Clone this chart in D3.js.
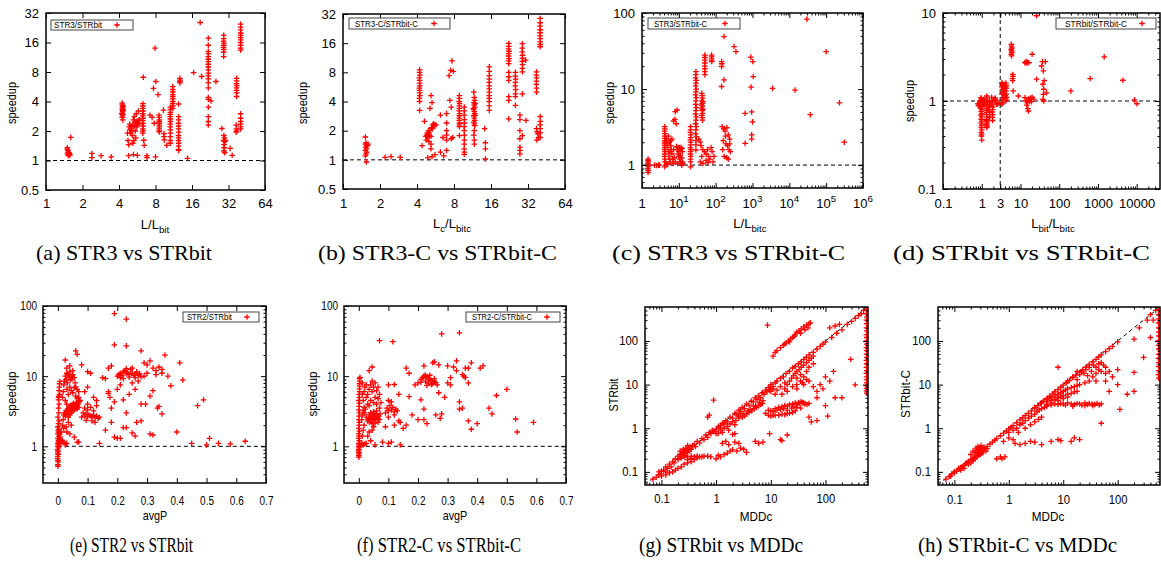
<!DOCTYPE html>
<html>
<head>
<meta charset="utf-8">
<script src="https://cdn.jsdelivr.net/npm/d3@7"></script>
<style>
body { margin: 0; background: #fff; }
text { font-family: "Liberation Sans", Arial, sans-serif; fill: #000; }
.cap { font-family: "Liberation Serif", "Times New Roman", serif; font-size: 22px; }
</style>
</head>
<body>
<svg id="fig" width="1161" height="561"></svg>
<script>
// ---- tick labels ----
var ticksPow2X = [1, 2, 4, 8, 16, 32, 64];
var ticksPow2Y = [0.5, 1, 2, 4, 8, 16, 32];
var ticksCX = [1, 10, 100, 1000, 10000, 100000, 1000000];
var ticksCY = [1, 10, 100];
var ticksDX = [0.1, 1, 3, 10, 100, 1000, 10000];
var ticksDY = [0.1, 1, 10];
var ticksPX = [0, 0.1, 0.2, 0.3, 0.4, 0.5, 0.6, 0.7];
var ticksPY = [1, 10, 100];
var ticksMDD = [0.1, 1, 10, 100];

var captions = ["(a) STR3 vs STRbit", "(b) STR3-C vs STRbit-C", "(c) STR3 vs STRbit-C", "(d) STRbit vs STRbit-C",
                "(e) STR2 vs STRbit", "(f) STR2-C vs STRbit-C", "(g) STRbit vs MDDc", "(h) STRbit-C vs MDDc"];
var legends = ["STR3/STRbit", "STR3-C/STRbit-C", "STR3/STRbit-C", "STRbit/STRbit-C", "STR2/STRbit", "STR2-C/STRbit-C"];

// ---- series (x, y) ----
var ptsA = [
 [1.5,1.35],[1.5,1.3],[1.52,1.26],[1.52,1.22],[1.54,1.2],[1.5,1.17],[1.55,1.15],[1.53,1.12],[1.58,1.14],[1.56,1.18],[1.6,1.72],
 [2.39,1.18],[2.39,1.07],[2.85,1.12],[3.45,1.09],
 [4.25,3.85],[4.25,3.7],[4.28,3.55],[4.3,3.45],[4.25,3.35],[4.3,3.25],[4.28,3.15],[4.25,3.05],[4.3,2.95],[4.28,2.85],[4.25,2.75],[4.3,2.6],[4.32,3.6],[4.32,3.3],[4.22,3.0],
 [4.7,1.9],[4.75,1.6],[4.8,1.45],[4.85,2.2],[4.9,2.35],[5.0,2.1],[5.05,2.25],[5.1,2.0],[5.15,1.8],[5.2,2.3],[5.25,2.6],[5.3,2.2],[5.35,2.8],[5.4,2.45],[5.5,2.3],[5.55,3.0],[5.6,2.5],[5.7,2.4],[5.8,3.2],[5.9,2.6],[5.3,1.6],[5.2,1.5],[5.5,1.7],[5.0,1.9],[4.9,2.05],[5.45,2.0],[5.6,2.2],[5.75,2.55],[5.85,2.35],
 [4.8,1.12],[5.26,1.15],[5.67,1.13],
 [6.3,3.8],[6.3,3.6],[6.28,3.4],[6.32,3.2],[6.3,3.0],[6.28,2.85],[6.32,2.7],[6.3,2.55],[6.28,2.4],[6.32,2.25],[6.3,2.1],[6.3,2.0],[6.28,1.9],[6.35,7.07],[6.4,1.61],[6.45,1.43],
 [6.8,1.12],[6.8,1.07],[7.7,5.45],[8.05,6.4],[8.4,4.7],[7.8,2.4],[7.93,14],[8.0,1.09],[7.2,2.9],[7.5,2.75],
 [8.55,2.9],[8.6,2.75],[8.62,2.6],[8.58,2.5],[8.6,2.4],[8.6,2.3],[8.62,2.2],[8.58,2.1],[8.6,2.0],[8.6,1.96],
 [9.3,3.27],[9.4,1.88],[9.4,1.75],[9.45,1.62],[9.9,1.43],
 [10.6,3.5],[10.6,3.3],[10.62,3.1],[10.58,2.95],[10.6,2.8],[10.6,2.65],[10.62,2.5],[10.58,2.35],[10.6,2.2],[10.6,2.05],[10.62,1.9],[10.6,1.75],[10.6,1.6],[10.6,1.5],
 [11.1,5.67],[11.1,5.3],[11.12,5.0],[11.08,4.7],[11.1,4.5],[11.1,4.25],[11.12,4.0],[11.08,3.8],[11.1,3.6],[11.1,3.4],
 [12.4,3.77],[12.4,2.8],[12.42,2.6],[12.38,2.4],[12.4,2.25],[12.4,2.1],[12.42,1.95],[12.38,1.8],[12.4,1.7],[12.4,1.6],[12.42,1.5],[12.4,1.4],[12.4,1.3],[12.4,1.27],
 [12.7,6.9],[12.75,6.6],[12.7,6.4],[12.72,6.2],
 [14.7,1.05],[16.5,7.9],[18.7,25.6],[19.2,7.2],
 [21.8,17.7],[21.8,15],[21.8,13],[21.85,12.3],[21.75,11.5],[21.8,10.8],[21.85,10.2],[21.75,9.6],[21.8,9],[21.8,8.4],[21.85,7.8],[21.8,7.3],[21.8,6.8],[21.8,6.2],[21.8,5.5],[21.8,4.4],[21.8,4.2],[21.8,3.5],[21.8,2.8],[21.8,2.5],[21.8,2.3],
 [23,4.05],[25.2,6.4],
 [29.2,19],[29.2,17.5],[29.1,16.5],[29.3,15.8],[29.2,15],[29.1,14.3],[29.3,13.6],[29.2,12.8],[29.2,11.5],
 [28.2,2.12],[29.3,1.8],[29.6,1.7],[29.2,1.6],[29.8,1.55],[29.4,1.45],[30.2,1.6],[29.5,1.35],[29.3,1.25],[29.8,1.2],[33,1.33],[34.3,1.13],
 [37.3,6.9],[37.3,6.5],[37.2,6.1],[37.4,5.8],[37.3,5.5],[37.2,5.2],[37.4,4.9],[37.3,4.5],
 [37,2.3],[37.2,2.1],[37,1.95],[37.4,2.0],
 [40.3,24.6],[40.3,23],[40.2,21.5],[40.4,20],[40.3,19],[40.2,18],[40.4,17],[40.3,16],[40.3,15],[40.2,14],[40.3,13.4],
 [40.2,3.0],[40.3,2.7],[40.4,2.5],[40.2,2.35],[40.3,2.2],[40.3,2.1]
];
var ptsB = [
 [1.52,1.72],[1.54,1.5],[1.52,1.45],[1.56,1.4],[1.53,1.35],[1.55,1.3],[1.52,1.25],[1.56,1.2],[1.54,1.15],[1.52,1.1],[1.55,0.95],[1.6,1.45],[1.58,1.4],
 [2.2,1.06],[2.46,1.08],[2.92,1.06],
 [4.2,8.5],[4.2,8.0],[4.22,7.5],[4.18,7.0],[4.2,6.6],[4.2,6.2],[4.22,5.8],[4.18,5.5],[4.2,5.2],[4.2,4.9],[4.22,4.6],[4.18,4.3],[4.2,4.0],[4.2,3.24],
 [4.4,1.4],[4.6,2.5],[4.7,1.75],[4.8,1.8],[4.9,1.7],[5.0,1.9],[5.1,2.0],[4.75,1.6],[5.0,1.55],[5.2,1.75],[5.3,3.9],[5.2,4.6],[5.4,2.3],[5.5,2.25],[5.6,2.3],[5.7,2.3],[5.2,1.3],[4.9,1.05],[5.3,1.08],[5.6,1.13],[5.2,1.45],[5.1,3.4],[5.35,2.1],[5.45,2.35],[4.85,1.9],[5.05,1.8],[4.95,2.0],[5.25,2.15],
 [6.2,2.9],[6.5,1.7],[6.2,1.2],[6.6,1.1],
 [6.96,3.0],[6.96,2.4],[6.96,2.0],[6.96,1.8],[6.96,1.6],[6.96,1.25],
 [7.3,7.4],[7.5,8.4],[7.4,4.1],[7.6,3.5],[7.8,1.7],[7.7,10.5],[7.9,8.2],[7.6,1.65],
 [8.85,4.6],[8.85,4.3],[8.82,4.0],[8.88,3.8],[8.85,3.6],[8.85,3.4],[8.82,3.2],[8.88,3.0],[8.85,2.85],[8.85,2.7],[8.82,2.55],[8.88,2.4],[8.85,2.3],[8.85,2.2],[8.85,1.78],
 [9.7,3.5],[9.7,3.2],[9.68,2.9],[9.72,2.6],[9.7,2.4],[9.7,2.2],[9.68,2.0],[9.72,1.8],[9.7,1.6],[9.7,1.45],[9.68,1.3],[9.72,1.2],[9.7,1.14],
 [11.6,5.0],[11.7,4.4],[11.8,4.1],[11.6,3.9],[11.7,3.7],[11.8,3.5],[11.6,3.3],[11.7,3.15],[11.8,3.0],[11.6,2.85],[11.7,2.7],[11.8,2.55],[11.6,2.45],[11.7,2.35],[11.8,2.25],[11.7,2.0],[11.6,1.8],[11.7,1.6],[11.7,1.45],[11.9,3.8],[11.9,2.9],[11.5,3.4],
 [14.2,2.1],[14.4,1.5],[14.4,1.3],[14.4,1.02],
 [15.5,9.1],[15.5,8.2],[15.5,7.4],[15.52,6.8],[15.48,6.3],[15.5,5.8],[15.5,5.4],[15.52,5.0],[15.48,4.6],[15.5,4.3],[15.5,4.0],[15.5,3.6],[15.5,3.24],
 [22.3,15.9],[22.3,14.8],[22.2,14],[22.4,13.2],[22.3,12.5],[22.2,11.8],[22.4,11.1],[22.3,10.5],[22.3,9.85],[22.3,8],[22.3,7.2],[22.3,6.6],[22.3,4.5],[22.3,4.1],[22.3,2.65],
 [25.3,8],[25.2,7.3],[25.4,6.8],[25.3,6.3],[25.2,5.8],[25.4,5.3],[25.3,4.8],[25.3,4.5],[25.3,3.65],
 [27.5,2.9],[27.5,2.6],[27.5,2.0],[27.5,1.65],[27.5,1.35],[27.5,1.25],[27.5,1.15],
 [28.8,15.8],[28.8,14.2],[28.7,13],[28.9,12],[28.8,11.2],[28.7,10.4],[28.9,9.6],[28.8,8.8],[28.8,8.1],[28.8,4.8],[28.8,1.78],
 [30.6,10.7],[30.8,2.55],
 [37.5,8.1],[37.4,7.5],[37.6,7.0],[37.5,6.5],[37.4,6.0],[37.6,5.5],[37.5,5.0],
 [37.5,2.1],[38,1.95],[38.5,1.85],[39,1.7],[37.8,1.6],
 [40.2,28.8],[40.2,26],[40.1,24],[40.3,22],[40.2,20.5],[40.1,19],[40.3,17.8],[40.2,16.5],[40.2,15.5],[40.2,14.7],
 [40.2,2.8],[40.3,2.5],[40.1,2.3],[40.2,2.1],[40.3,1.9],[40.2,1.7]
];
var ptsC = [
 [1.46,1.2],[1.46,1.15],[1.48,1.1],[1.44,1.05],[1.46,1.0],[1.48,0.95],[1.44,0.9],[1.46,0.85],[1.46,0.8],
 [2.2,1.0],[2.5,0.99],[2.8,1.0],[3.0,1.0],
 [4.15,3.2],[4.15,3.0],[4.1,2.8],[4.2,2.6],[4.15,2.4],[4.1,2.25],[4.2,2.1],[4.15,2.0],[4.1,1.9],[4.2,1.8],[4.15,1.7],[4.1,1.6],[4.2,1.5],[4.15,1.4],[4.1,1.3],[4.2,1.2],[4.15,1.1],[4.15,0.95],
 [4.6,2.2],[4.8,1.9],[5.0,1.7],[5.2,1.5],[5.4,1.3],[5.6,1.2],[5.8,1.1],[4.7,1.05],[5.0,1.02],[5.5,2.0],[6.0,1.8],[6.2,1.6],[6.5,1.4],[6.8,1.2],[7.0,1.05],[6.0,2.1],[5.2,2.4],[5.8,1.5],[6.5,2.2],[7.2,1.6],[7.5,1.25],[8.0,1.1],
 [8.0,5.05],[7.8,4.0],[7.2,3.8],[8.5,3.5],[9.0,5.3],
 [8.6,1.75],[9.0,1.6],[9.5,1.7],[10,1.65],[10.5,1.7],[11,1.6],[11.5,1.7],[12,1.65],[12.5,1.5],[9.5,1.4],[10,1.3],[10.5,1.2],[11,1.1],[11.5,1.05],[12,1.0],[12.5,1.1],[13,1.05],[9.2,1.05],[10,1.5],[11,1.35],[12,1.25],
 [20.8,3.2],[20.8,2.9],[20.6,2.7],[21,2.5],[20.8,2.3],[20.6,2.15],[21,2.0],[20.8,1.85],[20.6,1.7],[21,1.6],[20.8,1.5],[20.6,1.4],[21,1.3],[20.8,1.2],[20.8,1.1],[20.8,0.95],
 [29.1,17],[29.1,15.5],[28.5,14],[29.7,13],[29.1,12],[28.5,11],[29.7,10],[29.1,9.2],[28.5,8.4],[29.7,7.7],[29.1,7.0],[28.5,6.3],[29.7,5.7],[29.1,5.2],[28.5,4.7],[29.7,4.3],[29.1,3.9],[28.5,3.5],[29.7,3.2],[29.1,2.9],[28.5,2.6],[29.7,2.35],[29.1,2.1],[29.1,1.85],[29.1,1.58],
 [42,8.8],[43,8.2],[44,7.6],[42,7.0],[43,6.5],[44,6.0],[42,5.6],[43,5.2],[44,4.8],[42,4.5],[43,4.2],[44,3.9],[45,6.8],[45,5.4],[41,6.2],
 [51,28],[51,26],[51,24],[51,22],[51,20],[51,18.5],[51,17],[51,15.5],
 [35,2.2],[38,2.0],[40,1.8],[45,1.6],[50,1.5],[55,1.4],[60,1.6],[65,1.3],[70,1.2],[80,1.5],[90,1.3],[38,1.1],[45,1.05],[55,1.15],[62,1.08],[75,1.7],[85,1.1],[42,1.3],
 [77.6,28],[77.6,26.5],[77.6,25],[77.6,23.5],[78,23],
 [145,23],[147,21.5],[145,19.8],[145,10.8],[168,49],[168,13.2],
 [150,3.2],[165,3.0],[180,2.8],[200,3.1],[220,2.5],[240,2.2],[160,2.1],[190,1.9],[210,1.8],[230,1.6],[250,1.5],[170,1.3],[200,1.25],[220,1.2],[240,1.9],[155,1.6],[185,2.4],
 [315,36.2],[355,31],
 [630,4.8],[630,1.93],
 [900,26.3],[915,10.6],[1020,23],[1050,14.6],[950,5.0],[1000,3.7],[950,2.5],[950,2.2],
 [3500,10.2],[14300,9.7],[30000,83],[37000,4.6],[100000,31],[230000,6.6],[310000,2.0]
];
var ptsD = [
 [0.95,1.09],[0.97,1.05],[1.0,1.0],[0.95,0.97],[1.0,0.93],[0.97,0.9],[1.0,0.86],[0.95,0.83],[1.0,0.8],[0.97,0.76],[1.0,0.72],[0.95,0.69],[1.0,0.66],[0.97,0.62],[1.0,0.59],[0.97,0.56],[1.0,0.53],[0.97,0.5],[1.0,0.47],[0.97,0.44],[1.0,0.42],[0.98,0.4],[1.0,0.36],
 [0.8,0.93],[0.85,0.9],[0.88,0.95],[0.82,0.88],[0.9,1.0],
 [1.1,1.0],[1.15,1.05],[1.1,0.95],[1.2,0.9],
 [1.35,1.14],[1.35,1.08],[1.33,1.02],[1.37,0.97],[1.35,0.92],[1.33,0.87],[1.37,0.82],[1.35,0.78],[1.35,0.74],[1.33,0.7],[1.37,0.66],[1.35,0.62],[1.33,0.6],[1.37,0.58],[1.35,0.56],[1.33,0.54],[1.37,0.52],[1.35,0.5],
 [1.6,1.0],[1.6,0.95],[1.62,0.9],[1.58,0.85],[1.6,0.8],[1.6,0.75],[1.62,0.7],[1.6,0.65],
 [1.8,1.1],[1.85,1.0],[1.9,0.95],[1.85,0.9],[1.95,0.85],[1.9,0.8],[1.85,0.75],[1.95,0.7],[1.9,0.65],[1.9,0.6],
 [2.2,1.05],[2.25,1.08],[2.3,1.02],[2.4,0.92],[2.6,0.93],[2.8,0.95],
 [3.3,1.62],[3.4,1.55],[3.5,1.5],[3.3,1.45],[3.6,1.4],[3.4,1.35],[3.8,1.3],[3.5,1.25],[3.3,1.2],[4.0,1.15],[3.7,1.1],[3.4,1.05],[4.2,1.0],[3.5,0.95],[3.3,0.92],[4.2,1.6],[4.3,1.5],[4.4,1.4],[4.2,1.3],[4.3,1.2],[4.4,1.1],[4.2,1.05],[4.0,1.45],[3.8,1.55],
 [5.8,4.4],[5.9,4.2],[6.0,4.0],[5.8,3.85],[5.9,3.7],[6.0,3.55],[5.8,3.4],[5.9,3.25],
 [6.3,2.0],[6.4,1.9],[6.2,1.8],[6.3,1.7],[6.5,1.3],
 [8.8,1.14],
 [13,2.73],[14,2.7],[15,2.75],[16.5,2.72],[14,2.8],
 [13,1.09],[14,1.0],[15,0.95],[16,1.05],[17,1.0],[18,1.08],[19,0.98],[20,1.1],[22,1.05],[14.5,0.9],[16,0.77],[15.5,0.82],
 [20,3.4],[26,1.77],[26,9.3],
 [35,2.5],[37,2.8],[39,2.2],[41,1.7],[38,1.55],[40,1.36],[39,1.19],[38,1.04],[40,1.0],[47,1.24],[44,2.8],
 [200,1.3],[630,1.8],[1450,3.17],[4400,1.72],[8800,1.03],[10200,0.93]
];
var ptsE = [
 [0,0.52],[0,0.55],[0.001,0.6],[0,0.63],[-0.001,0.67],[0,0.72],[0.001,0.77],[0,0.8],[0,0.85],[-0.001,0.9],[0.002,0.95],[0,1.0],[0.001,1.05],[0,1.1],[0.002,1.2],[0,1.3],[0.003,1.4],[0,1.5],[0.002,1.6],[0.004,1.75],[0,1.9],[0.002,2.1],[0.004,2.3],[0,2.6],[0.003,3.0],[0.002,3.5],[0.004,4.0],[0.002,4.6],[0.003,5.2],[0.006,5.5],[0.004,6.2],[0.005,7.0],[0.006,7.8],[0.007,8.4],[0.002,5.0],[0.001,1.7],[0.003,1.15],[0.005,1.25],[0.006,1.5],[0.008,1.35],
 [0.01,1.1],[0.015,1.2],[0.02,1.15],[0.025,1.05],[0.03,1.1],[0.012,1.6],[0.015,2.0],[0.018,2.4],[0.02,2.8],[0.022,3.0],[0.025,2.7],[0.028,3.2],[0.03,2.9],[0.032,3.4],[0.035,3.1],[0.038,3.6],[0.04,3.3],[0.042,3.8],[0.045,3.5],[0.048,3.9],[0.05,3.6],[0.052,4.1],[0.055,3.7],[0.058,4.0],[0.06,3.5],[0.062,4.2],[0.065,3.8],[0.068,4.0],[0.07,3.6],[0.072,4.3],[0.05,3.2],[0.045,3.0],[0.04,2.8],[0.035,2.6],[0.055,3.3],[0.065,3.4],
 [0.015,5.0],[0.018,6.0],[0.02,7.5],[0.022,8.5],[0.025,10],[0.028,9.0],[0.03,11],[0.032,8.0],[0.035,10.5],[0.038,9.5],[0.04,11.5],[0.042,8.8],[0.045,10],[0.048,9.2],[0.05,10.5],[0.055,9.5],[0.058,8.0],[0.06,7.0],[0.065,6.5],[0.07,6.0],[0.03,6.5],[0.035,5.5],[0.04,7.0],[0.045,6.2],[0.05,5.8],[0.055,6.8],[0.06,5.2],[0.065,4.8],[0.07,5.0],[0.075,4.5],[0.025,4.5],[0.03,4.0],
 [0.06,23],[0.065,20.5],[0.025,17],[0.04,14],[0.03,13],[0.08,14.5],[0.05,12],
 [0.02,1.8],[0.028,1.9],[0.035,2.2],[0.045,2.0],[0.055,1.35],[0.065,1.15],[0.04,1.5],[0.03,1.6],
 [0.08,2.6],[0.085,3.0],[0.09,2.7],[0.095,2.9],[0.1,2.65],[0.105,2.8],[0.11,2.7],[0.115,2.65],[0.12,2.75],[0.125,2.6],[0.13,2.7],[0.135,2.5],[0.14,2.6],[0.1,3.3],[0.11,3.6],[0.12,3.2],[0.13,3.8],[0.115,2.3],[0.125,2.2],[0.095,2.35],[0.09,3.5],[0.1,4.0],
 [0.1,11.6],[0.11,11],[0.1,7],[0.09,6],[0.12,5],[0.13,4.5],[0.14,1.1],[0.07,1.15],
 [0.15,9.5],[0.16,9.2],[0.17,13],[0.18,14],[0.16,1.7],[0.18,2.2],[0.17,6],[0.175,5],[0.18,3.5],[0.19,4.3],[0.19,1.35],[0.2,1.3],[0.19,28],[0.19,78],[0.17,5.7],
 [0.2,10],[0.205,10.5],[0.21,11],[0.215,10.2],[0.22,11.5],[0.225,12],[0.23,10.8],[0.235,11.3],[0.24,10.5],[0.245,12.5],[0.25,11],[0.255,10.2],[0.26,10.8],[0.265,11.5],[0.27,10.3],[0.275,10.9],[0.28,9.8],[0.21,9.5],[0.22,9.2],[0.23,12.8],[0.24,9.7],[0.25,13],[0.26,9.5],
 [0.23,65],[0.23,27],[0.28,23],[0.2,6.5],[0.21,7.5],[0.22,4.6],[0.23,3],[0.22,1.85],[0.23,1.85],[0.21,1.3],[0.25,1.55],[0.26,1.4],[0.265,2.2],[0.28,2.3],[0.28,4],[0.295,4],[0.24,5.5],[0.26,6.5],[0.25,8],[0.27,8.5],[0.29,15.5],[0.31,16.5],[0.3,14.5],[0.32,13],[0.33,12],[0.34,13.5],[0.35,12.5],[0.36,20],[0.37,10],[0.38,7.3],[0.31,5.2],[0.32,6.2],[0.335,3.5],[0.35,2.9],[0.31,1.5],[0.32,1.45],[0.34,3.7],[0.3,11],[0.29,10],[0.33,10.5],[0.35,11],
 [0.4,1.6],[0.41,15.5],[0.42,8.8],[0.45,1.1],[0.47,3.8],[0.49,4.6],[0.5,1.05],[0.51,1.3],[0.54,1.1],[0.58,1.08],[0.63,1.18]
];
var ptsF = [
 [0,0.7],[0,0.74],[0.001,0.78],[0,0.82],[-0.001,0.86],[0,0.9],[0.001,0.95],[0,1.0],[0.001,1.05],[0,1.1],[0.002,1.2],[0,1.3],[0.001,1.4],[0,1.5],[0.002,1.65],[0,1.8],[0.001,2.0],[0.002,2.2],[0,2.4],[0.001,2.7],[0.002,3.0],[0,3.3],[0.001,3.7],[0.002,4.1],[0,4.5],[0.002,5.0],[0.001,5.5],[0.003,6.0],[0.002,6.6],[0.003,7.2],[0.002,7.8],[0.003,8.5],[0.002,9.2],[0.004,9.6],
 [0.008,1.05],[0.01,1.1],[0.015,1.05],[0.02,1.08],[0.025,1.1],[0.012,1.4],[0.015,1.7],[0.018,2.0],[0.01,2.4],[0.012,2.8],[0.015,3.2],[0.018,3.6],[0.02,3.0],[0.022,3.4],[0.025,2.6],[0.015,4.5],[0.012,5.5],[0.018,6.0],[0.02,7.0],[0.012,8.0],[0.025,5.0],
 [0.03,2.3],[0.033,2.5],[0.036,2.2],[0.04,2.6],[0.042,2.4],[0.045,2.8],[0.048,2.3],[0.05,2.7],[0.052,2.5],[0.055,2.9],[0.058,2.4],[0.06,2.6],[0.062,2.8],[0.065,2.5],[0.068,2.7],[0.07,2.4],[0.072,2.9],[0.04,3.0],[0.05,3.1],[0.06,3.2],[0.035,2.8],[0.045,2.1],[0.055,2.15],[0.065,2.2],[0.05,1.9],
 [0.03,5.5],[0.035,6.5],[0.04,7.5],[0.045,6.0],[0.05,7.0],[0.055,5.0],[0.06,6.2],[0.065,4.8],[0.07,5.5],[0.075,4.2],[0.04,4.5],[0.05,4.2],[0.06,4.0],[0.035,3.8],[0.045,8.5],[0.055,8.0],[0.065,7.0],[0.03,4.0],[0.025,7.5],[0.07,3.5],
 [0.035,12],[0.045,13.5],[0.07,32],[0.115,31],[0.1,7.5],[0.12,7.6],[0.1,1.1],[0.11,1.15],[0.14,1.05],[0.135,5.5],[0.09,1.9],[0.12,2.0],[0.08,1.15],[0.03,1.4],[0.04,1.2],[0.055,1.05],[0.035,1.6],[0.045,1.7],
 [0.09,3.0],[0.095,3.5],[0.1,3.2],[0.105,3.8],[0.11,3.3],[0.115,3.6],[0.12,3.1],[0.125,3.4],[0.13,3.2],[0.135,2.3],[0.14,2.2],[0.1,4.5],[0.11,4.3],[0.1,2.6],[0.12,2.8],
 [0.16,13],[0.17,11],[0.17,5.1],[0.16,2],[0.15,1.8],[0.18,2.8],[0.19,7.5],[0.2,2.4],[0.21,4.6],[0.22,3.4],[0.22,2.4],[0.23,2.1],[0.22,14],[0.2,8],[0.21,9],
 [0.21,8.2],[0.215,9.5],[0.22,10],[0.225,8.5],[0.23,9.8],[0.235,8.0],[0.24,10.3],[0.245,8.7],[0.25,7.8],[0.255,9.2],[0.26,8.1],[0.265,7.5],[0.225,10.4],[0.235,9.1],[0.245,7.6],[0.255,8.4],[0.24,9.0],[0.23,7.4],
 [0.25,15.5],[0.255,16],[0.27,14.5],[0.26,2.8],[0.28,2.9],[0.275,2.5],[0.28,40],[0.34,41.5],[0.27,5.8],[0.29,5],[0.3,14],[0.3,8],[0.31,7.5],[0.31,9.5],[0.32,13.5],[0.33,12],[0.33,16.5],[0.34,4.3],[0.34,3.4],[0.35,3.5],[0.35,10.5],[0.355,10],[0.36,9.5],[0.37,8],[0.37,2.3],[0.38,15.5],[0.38,1.75],[0.4,2.1],[0.41,13],[0.42,14],[0.44,3.5],[0.45,2.9],[0.465,5.3],[0.5,6.5],[0.53,2.45],[0.535,1.6],[0.59,2.2],[0.36,13],[0.37,13]
];
var ptsG = [
 [0.07,0.068],[0.08,0.075],[0.09,0.085],[0.09,0.1],[0.1,0.09],[0.1,0.105],[0.11,0.11],[0.12,0.1],[0.12,0.13],[0.13,0.12],[0.14,0.15],[0.15,0.13],[0.16,0.17],[0.17,0.16],[0.18,0.2],[0.2,0.19],[0.2,0.23],[0.22,0.25],[0.23,0.21],[0.24,0.28],[0.25,0.26],[0.26,0.3],[0.27,0.24],[0.28,0.32],[0.3,0.28],[0.3,0.35],[0.32,0.3],[0.33,0.38],[0.35,0.33],[0.37,0.4],[0.4,0.42],[0.42,0.38],[0.45,0.5],[0.5,0.46],[0.55,0.58],[0.6,0.55],[0.65,0.7],[0.7,0.62],[0.75,0.8],[0.8,0.75],[0.85,0.9],[0.9,0.85],[0.25,0.33],[0.28,0.35],[0.3,0.4],[0.22,0.3],[0.26,0.27],[0.29,0.3],[0.31,0.33],
 [0.1,0.08],[0.12,0.085],[0.14,0.095],[0.16,0.1],[0.18,0.11],[0.2,0.12],[0.23,0.13],[0.26,0.15],[0.3,0.16],[0.35,0.17],[0.4,0.19],[0.45,0.21],[0.5,0.22],[0.55,0.22],[0.6,0.23],[0.7,0.23],[0.8,0.22],[0.22,0.21],[0.26,0.22],[0.3,0.22],[0.35,0.23],[0.4,0.22],[0.45,0.23],[0.3,0.19],[0.35,0.2],
 [1.0,0.2],[1.2,0.22],[1.4,0.25],[1.6,0.27],[1.8,0.3],[2.0,0.32],[2.4,0.3],[2.8,0.35],[3.2,0.33],[3.6,0.28],[1.1,0.24],
 [1.3,0.45],[1.5,0.5],[1.7,0.42],[2.2,0.48],[2.6,0.45],[5.2,0.5],[6,0.45],[1.0,0.75],[1.1,0.76],[2.0,0.72],[2.2,0.75],[7.2,0.48],[9.5,0.75],[15,0.55],[16,0.52],[20,0.7],
 [1,0.95],[1.1,1.1],[1.2,1.15],[1.3,1.3],[1.4,1.25],[1.5,1.5],[1.6,1.4],[1.8,1.8],[2,1.7],[2.2,2.2],[2.4,2.1],[2.6,2.6],[2.8,2.4],[3,3.0],[3.3,2.8],[3.6,3.6],[4,3.4],[4.4,4.2],[4.8,4.0],[5.2,5.0],[5.6,4.5],[6,5.5],[6.5,5.0],[7,6.5],[7.5,6.0],[8,7.5],[8.5,6.8],[9,8.5],[9.5,7.5],[10,9],[0.95,0.85],[1.2,1.0],
 [1.2,0.9],[1.4,1.0],[1.6,1.1],[1.8,1.25],[2.0,1.4],[2.3,1.5],[2.6,1.7],[3.0,1.8],[3.3,1.9],[3.6,2.1],[4.0,2.3],[4.5,2.5],[5.0,2.8],[5.5,3.0],[6,3.3],[6.5,3.5],[7,3.7],[2.5,1.9],[3.2,2.2],[4.2,2.7],[5.3,3.3],[6.2,3.9],[7.2,4.3],[2.8,2.1],[3.8,2.5],[4.8,3.2],[2.2,1.2],[1.7,0.9],[1.3,0.8],
 [8,2.2],[9,2.0],[10,1.9],[11,1.95],[12,2.0],[14,2.0],[16,2.1],[18,2.05],[20,2.15],[22,2.2],[25,2.3],[10,2.5],[12,2.8],[14,3.0],[16,3.1],[18,3.3],[20,3.2],[22,3.5],[25,3.6],[28,3.8],[30,3.5],[34,3.7],[38,3.8],[42,3.6],[46,3.5],[50,3.7],[26,3.1],[32,3.9],[36,4.1],[40,3.9],[24,2.9],[30,3.0],[9,2.6],[11,2.4],[13,2.6],[15,2.7],[17,2.8],[20,2.6],[28,2.5],[35,2.9],
 [50,1.8],[55,1.4],[70,1.5],[100,3.3],[110,1.9],
 [10,10],[11,9],[12,11],[13,12],[15,14],[17,15],[19,18],[22,20],[25,24],[28,26],[32,30],[36,33],[40,38],[45,42],[50,48],[60,55],[70,65],[80,75],[90,85],[100,95],[130,120],[160,150],[200,180],[250,240],[300,280],[350,330],[400,380],[450,420],[500,500],
 [10,7],[11,8],[12,6],[13,7.5],[15,9],[16,6],[18,8],[20,10],[22,12],[24,14],[26,16],[28,18],[30,20],[33,22],[36,25],[40,28],[45,32],[50,36],[55,40],[60,45],[18,11],[20,7],[25,9],[30,10],[35,12],[40,15],[45,20],[50,25],[60,30],
 [30,8],[40,10],[50,12],[60,9],[70,7],[80,10],[90,8],[70,5],[150,5],[200,5],[290,38],[100,15],[120,12],[140,20],[30,14],[35,17],[38,11],[45,13],[350,9.9],
 [11,45],[12,55],[13,60],[15,70],[17,80],[19,90],[21,100],[23,110],[25,120],[28,140],[30,160],[33,170],[36,190],[40,210],[45,230],[50,250],[53,260],[18,85],[22,95],[27,130],[35,150],[42,180],[48,200],
 [8.7,230],[0.9,4.4],[0.7,1.8],[0.75,2.0],
 [150,220],[180,240],[120,200],
 [560,600],[565,500],[565,420],[570,350],[560,300],[566,250],[564,200],[570,170],[560,140],[566,120],[564,100],[570,85],[560,70],[566,60],[564,50],[570,42],[560,36],[566,30],[564,25],[570,21],[560,18],[566,15],[564,13],[570,11],[560,9.5],[566,8.2],[564,7.2],[570,6.4]
];
var ptsH = [
 [0.07,0.068],[0.08,0.078],[0.085,0.08],[0.09,0.09],[0.1,0.095],[0.1,0.1],[0.11,0.105],[0.12,0.115],[0.12,0.12],[0.13,0.125],[0.14,0.13],[0.15,0.14],[0.16,0.155],[0.17,0.16],[0.18,0.175],[0.2,0.19],[0.22,0.21],[0.24,0.23],[0.26,0.25],[0.28,0.27],[0.3,0.29],[0.33,0.32],[0.36,0.35],[0.4,0.38],[0.45,0.43],[0.5,0.48],[0.55,0.53],[0.6,0.58],[0.7,0.67],[0.8,0.77],[0.9,0.87],
 [0.2,0.25],[0.22,0.3],[0.24,0.28],[0.25,0.35],[0.26,0.32],[0.27,0.38],[0.28,0.3],[0.29,0.36],[0.3,0.33],[0.31,0.4],[0.32,0.35],[0.33,0.3],[0.35,0.37],[0.26,0.22],[0.28,0.24],[0.3,0.25],[0.32,0.27],[0.34,0.29],[0.24,0.2],[0.22,0.18],[0.38,0.3],[0.4,0.34],
 [0.13,0.11],[0.15,0.12],[0.18,0.15],[0.2,0.16],
 [0.6,0.2],[0.7,0.22],[0.75,0.2],[0.85,0.22],
 [1.3,0.45],[1.6,0.42],[2.0,0.45],[2.5,0.5],[3.0,0.48],[4.0,0.42],[6,0.5],[8,0.55],[9,0.52],[14,0.5],[16,0.6],[20,0.55],[1.0,0.6],[1.2,0.55],[0.8,0.5],
 [1,0.97],[1.1,1.05],[1.2,1.15],[1.4,1.35],[1.6,1.55],[1.8,1.75],[2,1.95],[2.3,2.2],[2.6,2.5],[3,2.9],[3.4,3.3],[3.8,3.7],[4.3,4.2],[5,4.8],[5.6,5.4],[6.3,6.1],[7,6.8],[8,7.7],[9,8.7],[10,9.7],[11.5,11],[13,12.5],[15,14.5],[17,16.5],[20,19],[23,22],[26,25],[30,29],[35,33],[40,38],[45,43],[50,48],[60,57],[70,67],[80,75],[100,95],
 [1,0.8],[1.2,0.9],[1.4,1.0],[1.6,1.2],[1.8,1.3],[2,1.5],[2.3,1.7],[2.6,1.9],[3,2.1],[3.3,2.4],[3.6,2.6],[4,2.8],[4.5,3.0],[5,3.2],[1.5,0.8],[2,1.0],[2.5,1.2],[3,1.4],[3.5,1.6],[4,1.8],
 [5,3.5],[6,3.4],[7,3.6],[8,3.5],[9,3.7],[10,3.6],[11,3.4],[12,3.8],[14,3.6],[16,3.5],[18,3.7],[20,3.6],[22,3.4],[25,3.8],[28,3.5],[30,3.7],[34,3.6],[38,3.5],[42,3.7],[46,3.4],[50,3.6],[15,3.2],[25,3.3],[35,3.3],
 [3,3.0],[4,3.8],[5,4.5],[6,5],[7,5.5],[8,6],[9,6.5],[10,7],[11,7.5],[12,8],[14,8.5],[16,9],[18,9.5],[20,10],[5,4],[6,4.3],[7,4.6],[8,5],[9,5.3],[10,5.6],[12,6],[14,6.3],[16,6.8],[18,7],[6,3.8],[8,4.3],[10,4.8],[12,5.2],
 [12,12],[15,15],[18,13],[20,17],[22,20],[24,18],[26,22],[28,16],[30,25],[33,20],[36,28],[40,25],[45,30],[50,32],[55,28],[60,25],[35,15],[40,18],[45,22],[50,20],[60,18],[70,20],[30,12],[40,12],[25,11],[18,20],
 [8,25],[200,19],[300,42],[400,120],[450,300],[500,500],[110,2.7],[70,7],[150,6],[200,7],[100,10],[50,1.3],[60,12],[80,15],[100,22],[200,110],[250,200],[350,300],[400,400],
 [560,600],[566,500],[564,400],[570,320],[560,260],[566,200],[564,160],[570,130],[560,100],[566,80],[564,65],[570,50],[560,40],[566,32],[564,26],[570,21],[560,17],[566,14]
];

// ---- layout ----
var svg = d3.select("#fig");
var RED = "#ff0000";
var ARM = 2.8;

function minorLog(lo, hi) {
  var out = [];
  for (var e = Math.floor(Math.log10(lo)); e <= Math.ceil(Math.log10(hi)); e++) {
    for (var m = 2; m <= 9; m++) {
      var v = m * Math.pow(10, e);
      if (v > lo * 1.0001 && v < hi * 0.9999) out.push(v);
    }
  }
  return out;
}

function squeeze(sel, f) {
  if (f === 1) return;
  sel.each(function () {
    var w = this.getComputedTextLength();
    d3.select(this).attr("textLength", w * f).attr("lengthAdjust", "spacingAndGlyphs");
  });
}

function styleAxis(g, fs) {
  g.attr("font-size", null).attr("font-family", null);
  g.select(".domain").remove();
  g.selectAll(".tick line").attr("stroke", "#000");
  g.selectAll(".tick text").style("font-size", fs + "px").attr("fill", "#000");
}

// label parts: [text, "sub"|"sup"|null, dy]
function richText(t, parts, fs) {
  parts.forEach(function (p) {
    var ts = t.append("tspan").text(p[0]);
    if (p[1] === "sub") { ts.attr("dy", fs * 0.3).style("font-size", (fs * 0.75) + "px"); }
    else if (p[1] === "sup") { ts.attr("dy", -fs * 0.4).style("font-size", (fs * 0.75) + "px"); }
    else if (p[2]) { ts.attr("dy", p[2]); }
  });
}

function plusPath(cx, cy) {
  return "M" + (cx - ARM) + "," + cy + "H" + (cx + ARM) + "M" + cx + "," + (cy - ARM) + "V" + (cy + ARM);
}

var panels = [
 { pts: ptsA, box: [46, 265, 13, 190], xlog: 2, xd: [1, 64], yd: [0.5, 32], xt: ticksPow2X, yt: ticksPow2Y,
   fs: 13, sq: 1, xpad: 18, ypad: 7, ylab: { x: 16, y: 103, t: "speedup", len: 42 },
   xlab: { x: 155, y: 229, parts: [["L/L"], ["bit", "sub"]] }, hline: 1,
   leg: { i: 0, box: [51, 133, 20, 30], tx: 54, tw: 48, mk: 117 } },
 { pts: ptsB, box: [343, 565, 14, 189], xlog: 2, xd: [1, 64], yd: [0.5, 32], xt: ticksPow2X, yt: ticksPow2Y,
   fs: 13, sq: 1, xpad: 19, ypad: 7, ylab: { x: 307, y: 103, t: "speedup", len: 42 },
   xlab: { x: 452, y: 228, parts: [["L"], ["c", "sub"], ["/L", null, -3.9], ["bitc", "sub"]] }, hline: 1,
   leg: { i: 1, box: [349, 450, 18, 29], tx: 355, tw: 63, mk: 434 } },
 { pts: ptsC, box: [642, 863, 13, 188], xlog: 10, xd: [1, 1e6], yd: [0.5, 100], xt: ticksCX, yt: ticksCY, pow10: true,
   xminor: minorLog(1, 1e6), yminor: minorLog(0.5, 100),
   fs: 13, sq: 1, xpad: 20, ypad: 7, ylab: { x: 614, y: 103, t: "speedup", len: 42 },
   xlab: { x: 750, y: 228, parts: [["L/L"], ["bitc", "sub"]] }, hline: 1,
   leg: { i: 2, box: [648, 740, 18, 29], tx: 654, tw: 53, mk: 725 } },
 { pts: ptsD, box: [943, 1160, 13, 189], xlog: 10, xd: [0.1, 40000], yd: [0.1, 10], xt: ticksDX, yt: ticksDY,
   xminor: minorLog(0.1, 40000), yminor: minorLog(0.1, 10),
   fs: 13, sq: 1, xpad: 19, ypad: 7, ylab: { x: 914, y: 101, t: "speedup", len: 42 },
   xlab: { x: 1053, y: 228, parts: [["L"], ["bit", "sub"], ["/L", null, -3.9], ["bitc", "sub"]] }, hline: 1, vline: 3,
   leg: { i: 3, box: [1056, 1156, 18, 29], tx: 1065, tw: 62, mk: 1142 } },
 { pts: ptsE, box: [43, 266, 306, 483], xlog: 0, xd: [-0.05, 0.7], yd: [0.3, 100], xt: ticksPX, yt: ticksPY,
   yminor: minorLog(0.3, 100), fs: 12, sq: 0.83, xpad: 22, ypad: 6, ylab: { x: 16, y: 394, t: "speedup", len: 45 },
   xlab: { x: 155, y: 520, parts: [["avgP"]] }, hline: 1, hfrom: 0,
   leg: { i: 4, box: [183, 259, 312, 322], tx: 187, tw: 45, mk: 247 } },
 { pts: ptsF, box: [344, 566, 306, 483], xlog: 0, xd: [-0.05, 0.7], yd: [0.3, 100], xt: ticksPX, yt: ticksPY,
   yminor: minorLog(0.3, 100), fs: 12, sq: 0.83, xpad: 22, ypad: 6, ylab: { x: 317, y: 394, t: "speedup", len: 45 },
   xlab: { x: 455, y: 520, parts: [["avgP"]] }, hline: 1, hfrom: 0,
   leg: { i: 5, box: [466, 560, 312, 322], tx: 472, tw: 60, mk: 547 } },
 { pts: ptsG, box: [645, 868, 307, 485], xlog: 10, xd: [0.05, 600], yd: [0.05, 600], xt: ticksMDD, yt: ticksMDD,
   xminor: minorLog(0.05, 600), yminor: minorLog(0.05, 600), fs: 12.5, sq: 0.9, xpad: 18, ypad: 7,
   ylab: { x: 618, y: 395, t: "STRbit", len: 33 }, xlab: { x: 756, y: 521, parts: [["MDDc"]] }, diag: true },
 { pts: ptsH, box: [938, 1160, 307, 485], xlog: 10, xd: [0.05, 600], yd: [0.05, 600], xt: ticksMDD, yt: ticksMDD,
   xminor: minorLog(0.05, 600), yminor: minorLog(0.05, 600), fs: 12.5, sq: 0.9, xpad: 19, ypad: 7,
   ylab: { x: 910, y: 394, t: "STRbit-C", len: 48 }, xlab: { x: 1048, y: 521, parts: [["MDDc"]] }, diag: true }
];

function fmtNum(v) {
  if (v === 0) return "0";
  if (v < 1 && v > 0 && String(v).length > 3) return v.toFixed(1);
  return String(v);
}

panels.forEach(function (p, k) {
  var L = p.box[0], R = p.box[1], T = p.box[2], B = p.box[3];
  var x = p.xlog ? d3.scaleLog().base(p.xlog).domain(p.xd).range([L, R]) : d3.scaleLinear().domain(p.xd).range([L, R]);
  var y = d3.scaleLog().domain(p.yd).range([B, T]);
  var g = svg.append("g");

  var cid = "clip" + k;
  g.append("clipPath").attr("id", cid).append("rect").attr("x", L).attr("y", T).attr("width", R - L).attr("height", B - T);
  var plot = g.append("g").attr("clip-path", "url(#" + cid + ")");

  // reference lines
  if (p.hline) {
    var x0 = p.hfrom === 0 ? x(0) : L;
    plot.append("line").attr("x1", x0).attr("x2", R).attr("y1", y(p.hline)).attr("y2", y(p.hline))
      .attr("stroke", "#000").attr("stroke-dasharray", "4,3");
  }
  if (p.vline) {
    plot.append("line").attr("x1", x(p.vline)).attr("x2", x(p.vline)).attr("y1", T).attr("y2", B)
      .attr("stroke", "#000").attr("stroke-dasharray", "4,3");
  }
  if (p.diag) {
    plot.append("line").attr("x1", x(p.xd[0])).attr("y1", y(p.xd[0])).attr("x2", x(p.xd[1])).attr("y2", y(p.xd[1]))
      .attr("stroke", "#000").attr("stroke-dasharray", "4,3");
  }

  // points
  plot.selectAll("path.pt").data(p.pts).enter().append("path").attr("class", "pt")
    .attr("d", function (d) { return plusPath(x(d[0]), y(d[1])); })
    .attr("stroke", RED).attr("stroke-width", 1.3).attr("fill", "none");

  // axes
  var fs = p.fs;
  var bx = g.append("g").attr("transform", "translate(0," + B + ")")
    .call(d3.axisBottom(x).tickValues(p.xt).tickSizeInner(-5).tickSizeOuter(0)
      .tickPadding(p.xpad - 0.71 * fs).tickFormat(p.pow10 ? function () { return ""; } : fmtNum));
  styleAxis(bx, fs);
  squeeze(bx.selectAll(".tick text"), p.sq);
  if (p.pow10) {
    p.xt.forEach(function (v) {
      var e = Math.round(Math.log10(v));
      var t = g.append("text").attr("x", x(v)).attr("y", B + p.xpad).attr("text-anchor", "middle").style("font-size", fs + "px");
      if (e === 0) t.text("1");
      else { t.append("tspan").text("10"); t.append("tspan").text(e).attr("dy", -6).style("font-size", (fs * 0.75) + "px"); }
    });
  }
  var ly = g.append("g").attr("transform", "translate(" + L + ",0)")
    .call(d3.axisLeft(y).tickValues(p.yt).tickSizeInner(-5).tickSizeOuter(0).tickPadding(p.ypad).tickFormat(fmtNum));
  styleAxis(ly, fs);
  squeeze(ly.selectAll(".tick text"), p.sq);
  g.append("g").attr("transform", "translate(0," + T + ")")
    .call(d3.axisTop(x).tickValues(p.xt).tickSizeInner(-5).tickSizeOuter(0).tickFormat(""))
    .call(styleAxis, fs);
  g.append("g").attr("transform", "translate(" + R + ",0)")
    .call(d3.axisRight(y).tickValues(p.yt).tickSizeInner(-5).tickSizeOuter(0).tickFormat(""))
    .call(styleAxis, fs);
  if (p.xminor) {
    g.append("g").attr("transform", "translate(0," + B + ")").call(d3.axisBottom(x).tickValues(p.xminor).tickSizeInner(-2.5).tickSizeOuter(0).tickFormat("")).call(styleAxis, fs);
    g.append("g").attr("transform", "translate(0," + T + ")").call(d3.axisTop(x).tickValues(p.xminor).tickSizeInner(-2.5).tickSizeOuter(0).tickFormat("")).call(styleAxis, fs);
  }
  if (p.yminor) {
    g.append("g").attr("transform", "translate(" + L + ",0)").call(d3.axisLeft(y).tickValues(p.yminor).tickSizeInner(-2.5).tickSizeOuter(0).tickFormat("")).call(styleAxis, fs);
    g.append("g").attr("transform", "translate(" + R + ",0)").call(d3.axisRight(y).tickValues(p.yminor).tickSizeInner(-2.5).tickSizeOuter(0).tickFormat("")).call(styleAxis, fs);
  }

  // frame
  g.append("rect").attr("x", L).attr("y", T).attr("width", R - L).attr("height", B - T)
    .attr("fill", "none").attr("stroke", "#000").attr("stroke-width", 1.5);

  // axis titles
  g.append("text").attr("transform", "translate(" + p.ylab.x + "," + p.ylab.y + ") rotate(-90)")
    .attr("text-anchor", "middle").style("font-size", "12px")
    .attr("textLength", p.ylab.len).attr("lengthAdjust", "spacingAndGlyphs").text(p.ylab.t);
  var xt = g.append("text").attr("x", p.xlab.x).attr("y", p.xlab.y).attr("text-anchor", "middle").style("font-size", "13px");
  richText(xt, p.xlab.parts, 13);
  squeeze(xt, p.sq);

  // legend
  if (p.leg) {
    var lb = p.leg.box;
    g.append("rect").attr("x", lb[0]).attr("y", lb[2]).attr("width", lb[1] - lb[0]).attr("height", lb[3] - lb[2])
      .attr("fill", "#fff").attr("stroke", "#444").attr("stroke-width", 1);
    g.append("text").attr("x", p.leg.tx).attr("y", lb[3] - 2.5).style("font-size", "9px")
      .attr("textLength", p.leg.tw).attr("lengthAdjust", "spacingAndGlyphs").text(legends[p.leg.i]);
    g.append("path").attr("d", plusPath(p.leg.mk, (lb[2] + lb[3]) / 2))
      .attr("stroke", RED).attr("stroke-width", 1.3);
  }
});

// captions
var capPos = [[36, 260, 176], [318, 260, 239], [612, 260, 233], [893, 260, 257],
              [70, 552, 123], [357, 552, 164], [639, 552, 164], [918, 552, 199]];
captions.forEach(function (c, i) {
  svg.append("text").attr("class", "cap").attr("x", capPos[i][0]).attr("y", capPos[i][1])
    .attr("textLength", capPos[i][2]).attr("lengthAdjust", "spacingAndGlyphs").text(c);
});
</script>
</body>
</html>
